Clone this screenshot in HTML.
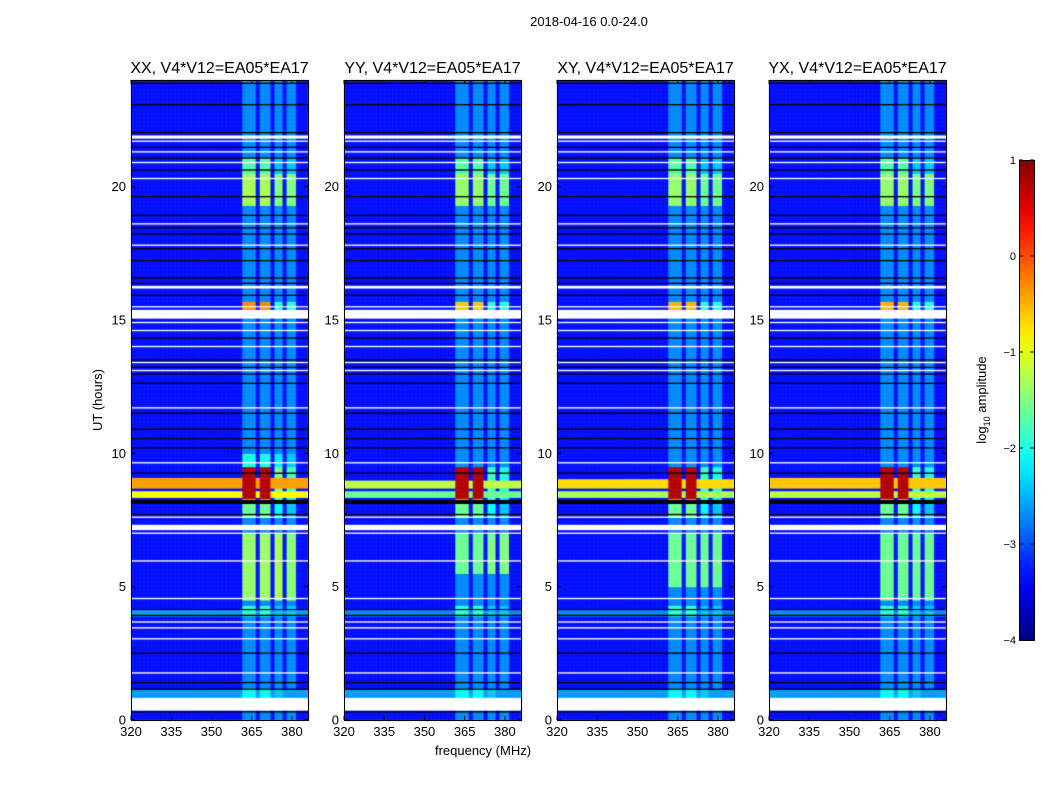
<!DOCTYPE html>
<html><head><meta charset="utf-8"><style>
body{margin:0;background:#fff;width:1050px;height:800px;overflow:hidden;font-family:"Liberation Sans",sans-serif}
#wrap{position:relative;width:1050px;height:800px}
canvas{position:absolute}
svg{position:absolute;left:0;top:0}
</style></head><body><div id="wrap">
<svg id="svg" width="1050" height="800"></svg>
</div>
<script>
const panelNames=['XX, V4*V12=EA05*EA17','YY, V4*V12=EA05*EA17','XY, V4*V12=EA05*EA17','YX, V4*V12=EA05*EA17'];
const panelLeft=[131,344,557,769];
const xTicks=[320,335,350,365,380];
const yTicks=[0,5,10,15,20];
const cbTicks=[1,0,-1,-2,-3,-4];
const baseLevel=-3.3;
const rfiDefault=-2.7;
const rfiCols=[[361.7,366.6],[368,371.8],[373.3,376.7],[378.1,381.5]];
const rfiSegXX=[[0.8,1.2,[-2.1,-2.1,-2.4,-2.6]],[3.9,4.3,[-1.9,-1.9,-2.4,-2.4]],[4.5,7.0,[-1.4,-1.35,-1.3,-1.45]],[7.6,8.3,[-1.6,-1.6,-2.1,-2.4]],[8.3,9.5,[0.75,0.75,-1.5,-1.8]],[9.5,10.0,[-2.0,-2.0,-2.2,-2.4]],[15.4,15.7,[-0.3,-0.3,-1.9,-1.9]],[19.3,20.5,[-1.3,-1.3,-1.5,-1.5]],[20.5,21.1,[-1.7,-1.7,-2.4,-2.4]]];
const rfiSegYY=[[0.8,1.2,[-2.1,-2.1,-2.4,-2.6]],[3.9,4.3,[-1.9,-1.9,-2.4,-2.4]],[5.5,7.0,[-1.6,-1.6,-1.5,-1.5]],[7.6,8.3,[-1.6,-1.6,-2.1,-2.4]],[8.3,9.5,[0.75,0.75,-1.8,-2.0]],[15.4,15.7,[-0.6,-0.6,-1.9,-1.9]],[19.3,20.5,[-1.4,-1.4,-1.6,-1.6]],[20.5,21.1,[-1.7,-1.7,-2.4,-2.4]]];
const rfiSegXY=[[0.8,1.2,[-2.1,-2.1,-2.4,-2.6]],[3.9,4.3,[-1.9,-1.9,-2.4,-2.4]],[5.0,7.0,[-1.6,-1.6,-1.6,-1.6]],[7.6,8.3,[-1.6,-1.6,-2.1,-2.4]],[8.3,9.5,[0.75,0.75,-1.8,-2.0]],[15.4,15.7,[-0.5,-0.5,-1.9,-1.9]],[19.3,20.5,[-1.4,-1.4,-1.6,-1.6]],[20.5,21.1,[-1.7,-1.7,-2.4,-2.4]]];
const rfiSegYX=[[0.8,1.2,[-2.1,-2.1,-2.4,-2.6]],[3.9,4.3,[-1.9,-1.9,-2.4,-2.4]],[4.5,7.0,[-1.6,-1.6,-1.6,-1.6]],[7.6,8.3,[-1.6,-1.6,-2.1,-2.4]],[8.3,9.5,[0.75,0.75,-1.8,-2.0]],[15.4,15.7,[-0.5,-0.5,-1.9,-1.9]],[19.3,20.5,[-1.4,-1.4,-1.5,-1.5]],[20.5,21.1,[-1.7,-1.7,-2.4,-2.4]]];
const rfiSegs=[rfiSegXX,rfiSegYY,rfiSegXY,rfiSegYX];
const bandXX=[[0.85,1.15,-2.6],[3.9,4.15,-2.6],[8.35,8.6,-0.9],[8.7,9.1,-0.4]];
const bandYY=[[0.85,1.15,-2.6],[3.9,4.15,-2.7],[8.35,8.6,-1.6],[8.7,9.0,-1.2]];
const bandXY=[[0.85,1.15,-2.6],[3.9,4.15,-2.7],[8.35,8.6,-1.3],[8.7,9.05,-0.7]];
const bandYX=[[0.85,1.15,-2.6],[3.9,4.15,-2.7],[8.35,8.6,-1.2],[8.7,9.1,-0.6]];
const bands=[bandXX,bandYY,bandXY,bandYX];
const whiteRows=[[0.35,0.83],[1.74,1.79],[3.02,3.07],[3.43,3.48],[3.65,3.70],[4.53,4.58],[5.94,5.99],[6.98,7.03],[7.12,7.32],[7.58,7.63],[9.62,9.67],[11.68,11.73],[13.08,13.13],[13.38,13.43],[13.98,14.03],[14.58,14.63],[14.88,14.93],[15.05,15.38],[15.48,15.52],[16.18,16.28],[17.78,17.83],[18.58,18.63],[20.28,20.33],[20.88,20.93],[21.28,21.33],[21.68,21.73],[21.8,21.92]];
const blackRows=[[0.28,0.33],[1.13,1.18],[1.38,1.43],[2.48,2.53],[3.9,3.95],[4.12,4.16],[7.68,7.73],[8.1,8.25],[9.23,9.28],[10.18,10.23],[10.53,10.58],[10.88,10.93],[11.48,11.53],[12.6,12.65],[12.95,13.0],[13.2,13.25],[13.48,13.53],[14.3,14.35],[15.9,15.95],[16.35,16.4],[16.55,16.6],[17.2,17.25],[17.65,17.7],[18.2,18.25],[18.43,18.48],[18.9,18.95],[19.6,19.65],[20.6,20.65],[21.05,21.1],[21.45,21.5],[22.0,22.05],[23.05,23.1],[23.85,23.9]];

const axTop=80, axBot=720, axW=177, fMin=320, fMax=386, tMin=0, tMax=24;
function xs(p,f){return panelLeft[p]+(f-fMin)/(fMax-fMin)*axW;}
function ys(t){return axBot-(t-tMin)/(tMax-tMin)*(axBot-axTop);}
function jet(v){const x=Math.max(0,Math.min(1,(v+4)/5));const c=a=>Math.round(255*Math.max(0,Math.min(1,1.5-Math.abs(4*x-a))));return `rgb(${c(3)},${c(2)},${c(1)})`;}
function value(p,f,t){
  let v=baseLevel;
  for(const b of bands[p]) if(t>=b[0]&&t<b[1]) v=Math.max(v,b[2]);
  for(let i=0;i<rfiCols.length;i++){const c=rfiCols[i];if(f>=c[0]&&f<c[1]){let l=rfiDefault;for(const s of rfiSegs[p]) if(t>=s[0]&&t<s[1]) l=s[2][i];v=Math.max(v,l);}}
  return v;
}
const svg=document.getElementById('svg');const NS='http://www.w3.org/2000/svg';
function el(tag,attrs,parent){const e=document.createElementNS(NS,tag);for(const k in attrs)e.setAttribute(k,attrs[k]);(parent||svg).appendChild(e);return e;}
const wrap=document.getElementById('wrap');
for(let p=0;p<4;p++){
  const cv=document.createElement('canvas');cv.width=1050;cv.height=800;cv.style.left='0';cv.style.top='0';
  
  
  wrap.insertBefore(cv,svg);
  const ctx=cv.getContext('2d');
  const df=0.5, dt=0.05;
  for(let t=tMin;t<tMax;t+=dt){for(let f=fMin;f<fMax;f+=df){
    ctx.fillStyle=jet(value(p,f+df/2,t+dt/2));
    const x0=xs(p,f),x1=xs(p,f+df),y0=ys(t+dt),y1=ys(t);
    ctx.fillRect(x0,y0,x1-x0+0.5,y1-y0+0.5);}}
  ctx.fillStyle='#fff';for(const r of whiteRows){ctx.fillRect(xs(p,fMin),ys(r[1]),axW,Math.max(1.3,ys(r[0])-ys(r[1])));}
  ctx.fillStyle='#000';for(const r of blackRows){ctx.fillRect(xs(p,fMin),ys(r[1]),axW,Math.max(1,ys(r[0])-ys(r[1])));}
  const g=el('g',{});
  el('rect',{x:panelLeft[p]+0.5,y:axTop+0.5,width:axW,height:axBot-axTop,fill:'none',stroke:'#000'},g);
  const tt=el('text',{x:panelLeft[p]+axW/2,y:73,'text-anchor':'middle','font-size':16},g);tt.textContent=panelNames[p];
  
  for(const v of xTicks){const x=xs(p,v);el('line',{x1:x,x2:x,y1:axBot,y2:axBot-4,stroke:'#000'},g);el('line',{x1:x,x2:x,y1:axTop,y2:axTop+4,stroke:'#000'},g);
    const t=el('text',{x:x,y:736,'text-anchor':'middle','font-size':13},g);t.textContent=v;}
  for(const v of yTicks){const y=ys(v);el('line',{x1:panelLeft[p],x2:panelLeft[p]+4,y1:y,y2:y,stroke:'#000'},g);el('line',{x1:panelLeft[p]+axW,x2:panelLeft[p]+axW-4,y1:y,y2:y,stroke:'#000'},g);
    const t=el('text',{x:panelLeft[p]-5,y:y+4.5,'text-anchor':'end','font-size':13},g);t.textContent=v;}
}
let t=el('text',{x:589,y:26,'text-anchor':'middle','font-size':13});t.textContent='2018-04-16 0.0-24.0';
t=el('text',{x:483,y:755,'text-anchor':'middle','font-size':13});t.textContent='frequency (MHz)';
t=el('text',{x:102,y:400,'text-anchor':'middle','font-size':13,transform:'rotate(-90 102 400)'});t.textContent='UT (hours)';
const defs=el('defs',{});const lg=el('linearGradient',{id:'jg',x1:0,y1:1,x2:0,y2:0},defs);
for(let i=0;i<=20;i++){const v=-4+5*i/20;el('stop',{offset:i/20,'stop-color':jet(v)},lg);}
const cb=el('g',{});
el('rect',{x:1019.5,y:160.5,width:15,height:480,fill:'url(#jg)',stroke:'#000'},cb);
for(const v of cbTicks){const y=160+(1-v)/5*480;el('line',{x1:1019,x2:1023,y1:y,y2:y,stroke:'#000'},cb);el('line',{x1:1034,x2:1030,y1:y,y2:y,stroke:'#000'},cb);
  const tx=el('text',{x:1016,y:y+4,'text-anchor':'end','font-size':11},cb);tx.textContent=v<0?'\u2212'+(-v):v;}
t=el('text',{x:986,y:400,'text-anchor':'middle','font-size':13,transform:'rotate(-90 986 400)'});t.innerHTML='log<tspan font-size="9" dy="4">10</tspan><tspan dy="-4"> amplitude</tspan>';
</script></body></html>
